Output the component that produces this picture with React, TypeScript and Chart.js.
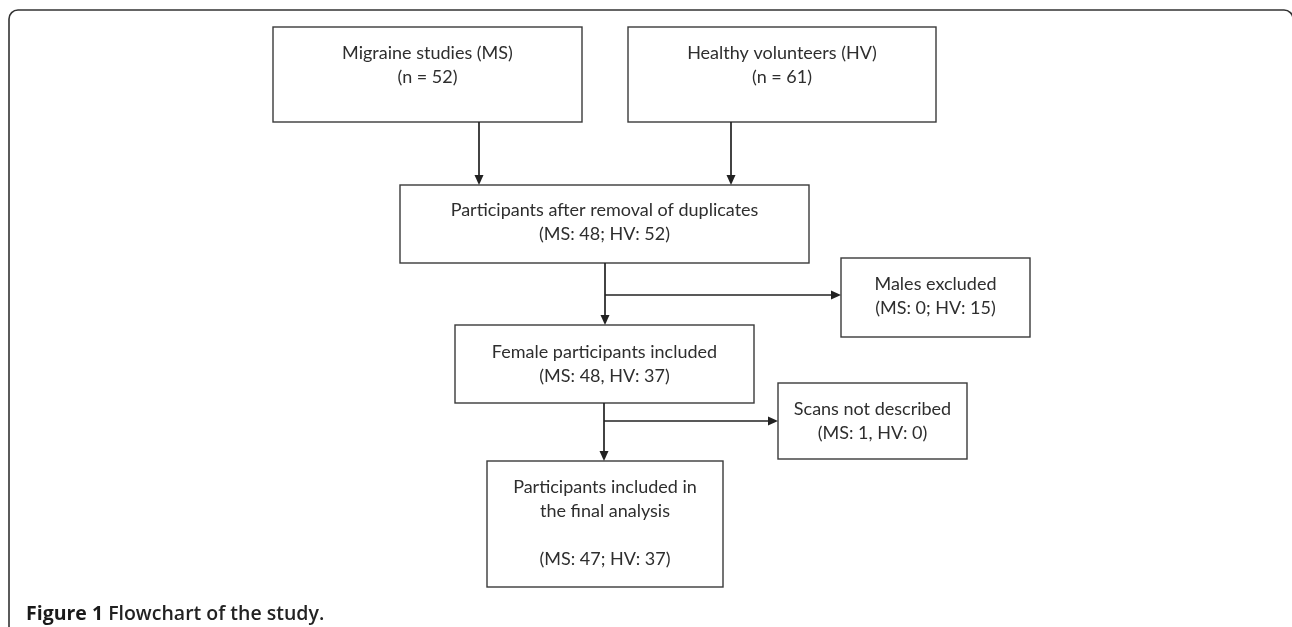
import React, { useEffect, useRef } from "react";
import { Chart, registerables } from "chart.js";

Chart.register(...registerables);

// ---- Data: flowchart nodes ----
const nodeTitles: string[][] = [
  ["Migraine studies (MS)"],
  ["Healthy volunteers (HV)"],
  ["Participants after removal of duplicates"],
  ["Males excluded"],
  ["Female participants included"],
  ["Scans not described"],
  ["Participants included in", "the final analysis", ""],
];
const nodeCounts: string[] = [
  "(n = 52)",
  "(n = 61)",
  "(MS: 48; HV: 52)",
  "(MS: 0; HV: 15)",
  "(MS: 48, HV: 37)",
  "(MS: 1, HV: 0)",
  "(MS: 47; HV: 37)",
];
const captionBold = "Figure 1";
const captionText = "Flowchart of the study.";

// ---- Layout (in scale units) ----
// box: [left, top, right, bottom]
const boxes: number[][] = [
  [273, 27, 582, 122],
  [628, 27, 936, 122],
  [400, 185, 809, 263],
  [841, 258, 1030, 337],
  [455, 325, 754, 403],
  [778, 383, 967, 459],
  [487, 461, 723, 587],
];
// first text line centre y for each box
const textTop: number[] = [53, 53, 210, 284, 352, 409, 487];
const lineGap = 24;
// vertical links: [x, fromBox, toBox]
const vLinks: number[][] = [
  [479, 0, 2],
  [731, 1, 2],
  [605, 2, 4],
  [604, 4, 6],
];
// side links: [x start, y, toBox]
const hLinks: number[][] = [
  [605, 295, 3],
  [604, 421, 5],
];

const W = 1292;
const H = 627;
const LINE = "#3a3a3a";
const TEXT = "#2e2e2e";
const BOX_FONT = '18px Lato, "Open Sans", sans-serif';

const flowPlugin = {
  id: "flow",
  afterDraw(chart: any) {
    const { ctx, scales } = chart;
    const xs = scales.x;
    const ys = scales.y;
    const px = (v: number) => xs.getPixelForValue(v);
    const py = (v: number) => ys.getPixelForValue(v);

    ctx.save();
    // outer frame
    ctx.strokeStyle = "#333";
    ctx.lineWidth = 1.6;
    const fl = px(9), ft = py(10), fr = px(1293), fb = py(640), r = 9;
    ctx.beginPath();
    ctx.moveTo(fl, fb);
    ctx.lineTo(fl, ft + r);
    ctx.arcTo(fl, ft, fl + r, ft, r);
    ctx.lineTo(fr - r, ft);
    ctx.arcTo(fr, ft, fr, ft + r, r);
    ctx.lineTo(fr, fb);
    ctx.stroke();

    // boxes
    ctx.strokeStyle = LINE;
    ctx.lineWidth = 1.4;
    boxes.forEach((b) => {
      ctx.strokeRect(px(b[0]), py(b[1]), px(b[2]) - px(b[0]), py(b[3]) - py(b[1]));
    });

    const arrowHead = (x: number, y: number, dir: "down" | "right") => {
      const L = 10, Wd = 4.5;
      ctx.beginPath();
      if (dir === "down") {
        ctx.moveTo(x, y);
        ctx.lineTo(x - Wd, y - L);
        ctx.lineTo(x + Wd, y - L);
      } else {
        ctx.moveTo(x, y);
        ctx.lineTo(x - L, y - Wd);
        ctx.lineTo(x - L, y + Wd);
      }
      ctx.closePath();
      ctx.fillStyle = "#222";
      ctx.fill();
    };

    ctx.strokeStyle = "#222";
    ctx.lineWidth = 1.7;
    vLinks.forEach(([x, f, t]) => {
      const y0 = py(boxes[f][3]);
      const y1 = py(boxes[t][1]);
      ctx.beginPath();
      ctx.moveTo(px(x), y0);
      ctx.lineTo(px(x), y1 - 6);
      ctx.stroke();
      arrowHead(px(x), y1, "down");
    });
    hLinks.forEach(([x, y, t]) => {
      const x1 = px(boxes[t][0]);
      ctx.beginPath();
      ctx.moveTo(px(x), py(y));
      ctx.lineTo(x1 - 6, py(y));
      ctx.stroke();
      arrowHead(x1, py(y), "right");
    });

    // texts
    ctx.fillStyle = TEXT;
    ctx.font = BOX_FONT;
    ctx.textAlign = "center";
    ctx.textBaseline = "middle";
    boxes.forEach((b, i) => {
      const cx = px((b[0] + b[2]) / 2);
      const lines = [...nodeTitles[i], nodeCounts[i]];
      lines.forEach((ln, k) => {
        ctx.fillText(ln, cx, py(textTop[i]) + k * lineGap);
      });
    });

    // caption
    ctx.textAlign = "left";
    ctx.textBaseline = "alphabetic";
    ctx.font = 'bold 19.5px "Open Sans", "Noto Sans", sans-serif';
    ctx.fillStyle = "#1a1a1a";
    const cx0 = px(26), cy0 = py(620);
    ctx.fillText(captionBold, cx0, cy0);
    const w1 = ctx.measureText(captionBold + " ").width;
    ctx.font = '600 19.5px "Open Sans", "Noto Sans", sans-serif';
    ctx.fillStyle = "#222";
    ctx.fillText(captionText, cx0 + w1, cy0);
    ctx.restore();
  },
};

export default function App() {
  const ref = useRef<HTMLCanvasElement | null>(null);
  useEffect(() => {
    if (!ref.current) return;
    const chart = new Chart(ref.current, {
      type: "scatter",
      data: {
        datasets: [
          {
            label: "nodes",
            data: boxes.map((b) => ({ x: (b[0] + b[2]) / 2, y: (b[1] + b[3]) / 2 })),
            pointRadius: 0,
            showLine: false,
          },
        ],
      },
      options: {
        animation: false,
        responsive: false,
        devicePixelRatio: 1,
        layout: { padding: 0 },
        plugins: { legend: { display: false }, tooltip: { enabled: false } },
        scales: {
          x: { type: "linear", min: 0, max: W, display: false },
          y: { type: "linear", min: 0, max: H, reverse: true, display: false },
        },
      },
      plugins: [flowPlugin],
    });
    return () => chart.destroy();
  }, []);
  return (
    <div style={{ position: "absolute", left: 0, top: 0, width: W, height: H, background: "#fff" }}>
      <canvas ref={ref} width={W} height={H} style={{ display: "block" }} />
    </div>
  );
}
